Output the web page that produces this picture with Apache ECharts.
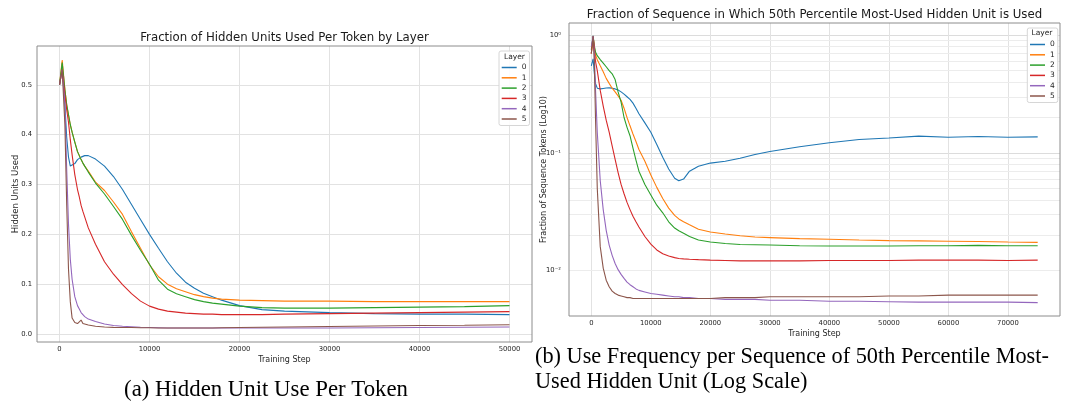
<!DOCTYPE html>
<html><head><meta charset="utf-8">
<script src="https://cdn.jsdelivr.net/npm/echarts@6/dist/echarts.min.js"></script>
<style>html,body{margin:0;padding:0;background:#fff}#c{width:1070px;height:404px}</style>
</head><body><div id="c"></div>
<script>
// ---------- data ----------
const layerNames = ['0', '1', '2', '3', '4', '5'];
const layerColors = ['#1f77b4', '#ff7f0e', '#2ca02c', '#d62728', '#9467bd', '#8c564b'];

// (a) fraction of hidden units used per token
const stepsA = [0,300,600,800,1000,1200,1400,1700,2000,2200,2400,2600,2800,3200,4000,5000,6000,7000,8000,9000,10000,11000,12000,13000,14000,15000,16000,17000,18000,20000,22500,25000,30000,35000,40000,45000,50000];
const useA0 = [0.50,0.535,0.46,0.395,0.355,0.337,0.334,0.342,0.35,0.353,0.355,0.357,0.358,0.358,0.351,0.337,0.316,0.29,0.26,0.23,0.2,0.172,0.145,0.122,0.104,0.092,0.082,0.075,0.068,0.057,0.049,0.046,0.043,0.041,0.040,0.040,0.039];
const useA1 = [0.50,0.55,0.49,0.46,0.44,0.42,0.405,0.385,0.366,0.358,0.35,0.343,0.337,0.327,0.305,0.288,0.265,0.24,0.205,0.172,0.139,0.115,0.1,0.091,0.085,0.079,0.075,0.072,0.07,0.068,0.067,0.066,0.066,0.065,0.065,0.065,0.065];
const useA2 = [0.50,0.545,0.49,0.46,0.44,0.42,0.405,0.385,0.366,0.358,0.35,0.343,0.337,0.325,0.303,0.281,0.256,0.23,0.198,0.168,0.14,0.108,0.09,0.081,0.075,0.069,0.065,0.062,0.06,0.056,0.053,0.052,0.052,0.053,0.054,0.055,0.057];
const useA3 = [0.50,0.53,0.48,0.45,0.425,0.39,0.36,0.32,0.29,0.275,0.258,0.246,0.235,0.213,0.18,0.145,0.12,0.099,0.081,0.066,0.056,0.05,0.046,0.044,0.042,0.041,0.040,0.040,0.039,0.039,0.039,0.040,0.041,0.042,0.043,0.044,0.045];
const useA4 = [0.50,0.53,0.46,0.33,0.22,0.15,0.11,0.075,0.057,0.05,0.043,0.039,0.035,0.030,0.025,0.02,0.017,0.0155,0.0145,0.0135,0.013,0.0125,0.012,0.012,0.012,0.012,0.012,0.012,0.012,0.012,0.012,0.012,0.012,0.0125,0.013,0.0135,0.014];
const useA5 = [0.50,0.53,0.42,0.26,0.13,0.065,0.032,0.023,0.021,0.021,0.028,0.021,0.02,0.018,0.0155,0.014,0.0133,0.013,0.013,0.0125,0.0125,0.012,0.012,0.012,0.012,0.012,0.012,0.012,0.0125,0.013,0.0135,0.014,0.015,0.016,0.017,0.0175,0.0187];

// (b) fraction of sequence in which 50th percentile most-used unit is used
const stepsB = [0,300,500,700,1000,1500,2000,2500,3000,3500,4000,4500,5000,5500,6000,6500,7000,7500,8000,9000,10000,11000,12000,13000,14000,14700,15500,16500,18000,20000,22500,25000,27500,30000,35000,40000,45000,50000,55000,60000,65000,70000,75000];
const freqB0 = [0.55,0.63,0.48,0.39,0.355,0.35,0.353,0.356,0.357,0.355,0.35,0.342,0.33,0.316,0.3,0.285,0.265,0.24,0.215,0.18,0.15,0.118,0.092,0.073,0.061,0.058,0.06,0.07,0.077,0.082,0.085,0.09,0.097,0.103,0.113,0.122,0.13,0.134,0.139,0.136,0.138,0.136,0.137];
const freqB1 = [0.7,0.97,0.8,0.68,0.62,0.55,0.49,0.43,0.39,0.355,0.33,0.305,0.28,0.24,0.2,0.17,0.145,0.125,0.107,0.085,0.065,0.051,0.041,0.034,0.0295,0.0275,0.026,0.0245,0.0225,0.0213,0.0205,0.0198,0.0193,0.0191,0.0187,0.0185,0.0182,0.018,0.0179,0.0178,0.0177,0.0175,0.0174];
const freqB2 = [0.75,0.99,0.82,0.72,0.67,0.62,0.58,0.54,0.5,0.47,0.42,0.33,0.27,0.2,0.165,0.14,0.11,0.087,0.07,0.054,0.044,0.036,0.031,0.026,0.023,0.0218,0.0208,0.0195,0.0182,0.0175,0.017,0.0167,0.0166,0.0165,0.0163,0.0162,0.0162,0.0162,0.0163,0.0163,0.0164,0.0163,0.0163];
const freqB3 = [0.7,0.98,0.8,0.6,0.5,0.34,0.25,0.19,0.15,0.115,0.088,0.068,0.054,0.045,0.038,0.033,0.029,0.026,0.0235,0.0195,0.0168,0.015,0.0139,0.0133,0.0129,0.0127,0.0126,0.0125,0.0124,0.0123,0.0122,0.0121,0.0121,0.0121,0.0121,0.0122,0.0122,0.0122,0.0123,0.0123,0.0123,0.0122,0.0123];
const freqB4 = [0.8,0.99,0.7,0.35,0.15,0.058,0.033,0.022,0.0165,0.0135,0.0115,0.0102,0.0093,0.0086,0.008,0.0076,0.0073,0.007,0.0068,0.0066,0.0064,0.0063,0.0062,0.0061,0.006,0.006,0.0059,0.0059,0.0058,0.0058,0.0057,0.0057,0.0057,0.0056,0.0056,0.0055,0.0055,0.00545,0.0054,0.0054,0.0054,0.0054,0.00535];
const freqB5 = [0.7,0.98,0.6,0.2,0.05,0.016,0.0105,0.0083,0.0073,0.0067,0.0064,0.0062,0.0061,0.006,0.0059,0.0059,0.0058,0.0058,0.0058,0.0058,0.0058,0.0058,0.0058,0.0058,0.0058,0.0058,0.0058,0.0058,0.0058,0.0058,0.0059,0.0059,0.0059,0.006,0.006,0.006,0.006,0.0061,0.0061,0.0062,0.0062,0.0062,0.0062];

// minor log gridline values (2..9 x 10^k)
const minorTicksB = [0.005,0.006,0.007,0.008,0.009,0.02,0.03,0.04,0.05,0.06,0.07,0.08,0.09,0.2,0.3,0.4,0.5,0.6,0.7,0.8,0.9];
const supLabels = {'-2': '10\u207B\u00B2', '-1': '10\u207B\u00B9', '0': '10\u2070'};

const titleA = 'Fraction of Hidden Units Used Per Token by Layer';
const titleB = 'Fraction of Sequence in Which 50th Percentile Most-Used Hidden Unit is Used';
const captionA = '(a) Hidden Unit Use Per Token';
const captionB = '(b) Use Frequency per Sequence of 50th Percentile Most-\nUsed Hidden Unit (Log Scale)';

// ---------- chart ----------
const seriesA = [useA0, useA1, useA2, useA3, useA4, useA5];
const seriesB = [freqB0, freqB1, freqB2, freqB3, freqB4, freqB5];
const FONT = 'DejaVu Sans';
const TXT = '#262626';
const GRID = '#e2e2e2';
const BORDER = '#8c8c8c';

function lineSeries(name, steps, vals, idx, axisIdx) {
  return {
    type: 'line', name: name, xAxisIndex: axisIdx, yAxisIndex: axisIdx,
    data: steps.map((s, i) => [s, vals[i]]),
    showSymbol: false, symbol: 'none', smooth: false, z: 3,
    lineStyle: { width: 1.1, color: layerColors[idx] },
    itemStyle: { color: layerColors[idx] },
    emphasis: { disabled: true }
  };
}

const series = [];
series.push({
  type: 'line', name: 'minorgrid', xAxisIndex: 1, yAxisIndex: 1, data: [], z: 1, silent: true,
  markLine: {
    z: 1, zlevel: 0, silent: true, symbol: ['none', 'none'], label: { show: false }, animation: false,
    lineStyle: { color: '#ececec', width: 1, type: 'solid' },
    emphasis: { disabled: true },
    data: minorTicksB.map(v => ({ yAxis: v }))
  }
});
layerNames.forEach((n, i) => series.push(lineSeries(n, stepsA, seriesA[i], i, 0)));
layerNames.forEach((n, i) => series.push(lineSeries(n, stepsB, seriesB[i], i, 1)));

function legendCfg(left, top) {
  return {
    data: layerNames, orient: 'vertical', left: left, top: top,
    padding: [11.5, 3, 1.5, 2.7], itemGap: 0.3, itemWidth: 15, itemHeight: 1.5, icon: 'rect',
    textStyle: { fontSize: 7.5, lineHeight: 10, color: TXT, fontFamily: FONT },
    borderColor: '#d6d6d6', borderWidth: 1, borderRadius: 2, backgroundColor: 'rgba(255,255,255,0.9)',
    selectedMode: false, z: 5
  };
}

const option = {
  animation: false,
  backgroundColor: '#ffffff',
  title: [
    { text: titleA, left: 284.5, top: 32, textAlign: 'center', padding: 0,
      textStyle: { fontSize: 11.75, fontWeight: 'normal', color: '#1a1a1a', fontFamily: FONT } },
    { text: titleB, left: 814.5, top: 9, textAlign: 'center', padding: 0,
      textStyle: { fontSize: 11.75, fontWeight: 'normal', color: '#1a1a1a', fontFamily: FONT } },
    { text: 'Layer', left: 514.5, top: 53, textAlign: 'center', padding: 0, z: 10,
      textStyle: { fontSize: 7.5, fontWeight: 'normal', color: TXT, fontFamily: FONT } },
    { text: 'Layer', left: 1042, top: 29, textAlign: 'center', padding: 0, z: 10,
      textStyle: { fontSize: 7.5, fontWeight: 'normal', color: TXT, fontFamily: FONT } },
    { text: captionA, left: 266, top: 379, textAlign: 'center', padding: 0,
      textStyle: { fontSize: 22.8, fontWeight: 'normal', color: '#000', fontFamily: 'Liberation Serif' } },
    { text: captionB, left: 535, top: 345, padding: 0,
      textStyle: { fontSize: 22.3, lineHeight: 25, fontWeight: 'normal', color: '#000', fontFamily: 'Liberation Serif' } }
  ],
  legend: [legendCfg(499, 51), legendCfg(1027.3, 28)],
  grid: [
    { left: 37, top: 46, width: 495, height: 296, show: true, borderColor: BORDER, borderWidth: 1, backgroundColor: 'transparent', z: 4 },
    { left: 569, top: 23, width: 491, height: 293, show: true, borderColor: BORDER, borderWidth: 1, backgroundColor: 'transparent', z: 4 }
  ],
  xAxis: [
    { type: 'value', gridIndex: 0, min: -2500, max: 52500, splitNumber: 5, minInterval: 10000, maxInterval: 10000,
      axisLine: { show: false }, axisTick: { show: false },
      axisLabel: { fontSize: 6.8, color: TXT, fontFamily: FONT, margin: 4, showMinLabel: false, showMaxLabel: false, formatter: v => String(v) },
      splitLine: { show: true, showMinLine: false, showMaxLine: false, lineStyle: { color: GRID, width: 1 } },
      name: 'Training Step', nameLocation: 'middle', nameGap: 13.5, nameMoveOverlap: false,
      nameTextStyle: { fontSize: 8, color: TXT, fontFamily: FONT } },
    { type: 'value', gridIndex: 1, min: -3750, max: 78750, splitNumber: 8, minInterval: 10000, maxInterval: 10000,
      axisLine: { show: false }, axisTick: { show: false },
      axisLabel: { fontSize: 6.8, color: TXT, fontFamily: FONT, margin: 4, showMinLabel: false, showMaxLabel: false, formatter: v => String(v) },
      splitLine: { show: true, showMinLine: false, showMaxLine: false, lineStyle: { color: GRID, width: 1 } },
      name: 'Training Step', nameLocation: 'middle', nameGap: 13.5, nameMoveOverlap: false,
      nameTextStyle: { fontSize: 8, color: TXT, fontFamily: FONT } }
  ],
  yAxis: [
    { type: 'value', gridIndex: 0, min: -0.016, max: 0.578, splitNumber: 6, minInterval: 0.1, maxInterval: 0.1,
      axisLine: { show: false }, axisTick: { show: false },
      axisLabel: { fontSize: 6.8, color: TXT, fontFamily: FONT, margin: 5, showMinLabel: false, showMaxLabel: false, formatter: v => v.toFixed(1) },
      splitLine: { show: true, showMinLine: false, showMaxLine: false, lineStyle: { color: GRID, width: 1 } },
      name: 'Hidden Units Used', nameLocation: 'middle', nameGap: 17, nameMoveOverlap: false,
      nameTextStyle: { fontSize: 8.5, color: TXT, fontFamily: FONT } },
    { type: 'log', logBase: 10, gridIndex: 1, min: 0.00412, max: 1.27,
      axisLine: { show: false }, axisTick: { show: false },
      axisLabel: { fontSize: 6.8, color: TXT, fontFamily: FONT, margin: 8, showMinLabel: false, showMaxLabel: false,
        formatter: v => { const l = Math.log10(v); const e = Math.round(l); return Math.abs(l - e) < 0.01 ? (supLabels[String(e)] || '') : ''; } },
      splitLine: { show: true, showMinLine: false, showMaxLine: false, lineStyle: { color: '#dcdcdc', width: 1 } },
      name: 'Fraction of Sequence Tokens (Log10)', nameLocation: 'middle', nameGap: 21, nameMoveOverlap: false,
      nameTextStyle: { fontSize: 8, color: TXT, fontFamily: FONT } }
  ],
  series: series
};

const chart = echarts.init(document.getElementById('c'), null, { renderer: 'canvas' });
chart.setOption(option);
</script>
</body></html>
